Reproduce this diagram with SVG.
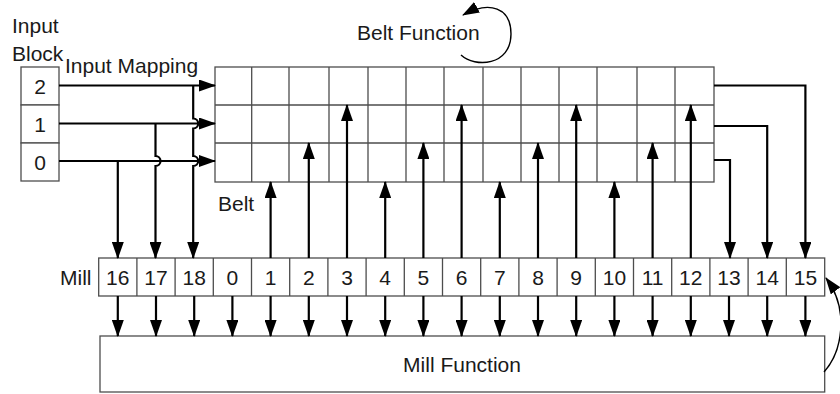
<svg xmlns="http://www.w3.org/2000/svg" width="840" height="394" viewBox="0 0 840 394">
<style>
text{font-family:"Liberation Sans",Arial,sans-serif;font-size:21px;fill:#1a1a1a}
.c{text-anchor:middle}
.cell{fill:#fff;stroke:#4d4d4d;stroke-width:1.3}
.grid{fill:none;stroke:#4d4d4d;stroke-width:1.3}
.w{fill:none;stroke:#000;stroke-width:2.2;marker-end:url(#ah)}
.arc{fill:none;stroke:#000;stroke-width:1.4;marker-end:url(#ah)}
</style>
<defs>
<marker id="ah" viewBox="0 0 17 12" refX="16" refY="6" markerWidth="17" markerHeight="12" markerUnits="userSpaceOnUse" orient="auto">
<path d="M0,0 L17,6 L0,12 z" fill="#000"/>
</marker>
</defs>
<rect width="840" height="394" fill="#fff"/>

<g id="input-block">
<text x="12" y="33">Input</text>
<text x="12" y="61">Block</text>
<rect class="cell" x="21" y="67" width="38" height="38"/>
<rect class="cell" x="21" y="105" width="38" height="38"/>
<rect class="cell" x="21" y="143" width="38" height="38"/>
<text class="c" x="40" y="94">2</text>
<text class="c" x="40" y="132">1</text>
<text class="c" x="40" y="170">0</text>
</g>

<g id="belt">
<rect class="cell" x="215" y="67" width="499" height="115"/>
<path class="grid" d="M215,105H714M215,143H714M251.7,67V182M289,67V182M329,67V182M368,67V182M406,67V182M444,67V182M483,67V182M521,67V182M559,67V182M597,67V182M637,67V182M675,67V182"/>
<text x="218" y="211">Belt</text>
</g>

<g id="belt-function">
<text x="357" y="40">Belt Function</text>
</g>

<g id="mill">
<text x="60" y="285">Mill</text>
<rect class="cell" x="98.7" y="258" width="726" height="38"/>
<path class="grid" d="M136.9,258V296M175.1,258V296M213.3,258V296M251.5,258V296M289.7,258V296M327.9,258V296M366.1,258V296M404.3,258V296M442.5,258V296M480.7,258V296M518.9,258V296M557.1,258V296M595.3,258V296M633.5,258V296M671.7,258V296M709.9,258V296M748.1,258V296M786.3,258V296"/>
<text class="c" x="117.8" y="285">16</text>
<text class="c" x="156" y="285">17</text>
<text class="c" x="194.2" y="285">18</text>
<text class="c" x="232.4" y="285">0</text>
<text class="c" x="270.6" y="285">1</text>
<text class="c" x="308.8" y="285">2</text>
<text class="c" x="347" y="285">3</text>
<text class="c" x="385.2" y="285">4</text>
<text class="c" x="423.4" y="285">5</text>
<text class="c" x="461.6" y="285">6</text>
<text class="c" x="499.8" y="285">7</text>
<text class="c" x="538" y="285">8</text>
<text class="c" x="576.2" y="285">9</text>
<text class="c" x="614.4" y="285">10</text>
<text class="c" x="652.6" y="285">11</text>
<text class="c" x="690.8" y="285">12</text>
<text class="c" x="729" y="285">13</text>
<text class="c" x="767.2" y="285">14</text>
<text class="c" x="805.4" y="285">15</text>
</g>

<g id="mill-function">
<rect class="cell" x="100" y="336" width="724.7" height="56"/>
<text class="c" x="462" y="372">Mill Function</text>
</g>

<g id="connectors">
<text x="65" y="73">Input Mapping</text>
<path class="w" d="M59,85.5H215"/>
<path class="w" d="M59,123.5H215"/>
<path class="w" d="M59,161H215"/>
<path class="w" d="M117.8,161V258"/>
<path class="w" d="M155.5,123.5V156A5,5 0 0 1 155.5,166V258"/>
<path class="w" d="M193.2,85.5V118.5A5,5 0 0 1 193.2,128.5V156A5,5 0 0 1 193.2,166V258"/>
<path class="w" d="M270.6,258V182"/>
<path class="w" d="M308.8,258V143"/>
<path class="w" d="M347,258V105"/>
<path class="w" d="M385.2,258V182"/>
<path class="w" d="M423.4,258V143"/>
<path class="w" d="M461.6,258V105"/>
<path class="w" d="M499.8,258V182"/>
<path class="w" d="M538,258V143"/>
<path class="w" d="M576.2,258V105"/>
<path class="w" d="M614.4,258V182"/>
<path class="w" d="M652.6,258V143"/>
<path class="w" d="M690.8,258V105"/>
<path class="w" d="M714,85.5H805.4V258"/>
<path class="w" d="M714,126H767.2V258"/>
<path class="w" d="M714,160H730V258"/>
<path class="w" d="M117.8,296V336"/>
<path class="w" d="M156,296V336"/>
<path class="w" d="M194.2,296V336"/>
<path class="w" d="M232.4,296V336"/>
<path class="w" d="M270.6,296V336"/>
<path class="w" d="M308.8,296V336"/>
<path class="w" d="M347,296V336"/>
<path class="w" d="M385.2,296V336"/>
<path class="w" d="M423.4,296V336"/>
<path class="w" d="M461.6,296V336"/>
<path class="w" d="M499.8,296V336"/>
<path class="w" d="M538,296V336"/>
<path class="w" d="M576.2,296V336"/>
<path class="w" d="M614.4,296V336"/>
<path class="w" d="M652.6,296V336"/>
<path class="w" d="M690.8,296V336"/>
<path class="w" d="M729,296V336"/>
<path class="w" d="M767.2,296V336"/>
<path class="w" d="M805.4,296V336"/>
<path class="arc" d="M461,55C475,68 511,66 511,34C511,8 490,0 463,15"/>
<path class="arc" d="M824,372C842,352 850,310 826,278"/>
</g>
</svg>
